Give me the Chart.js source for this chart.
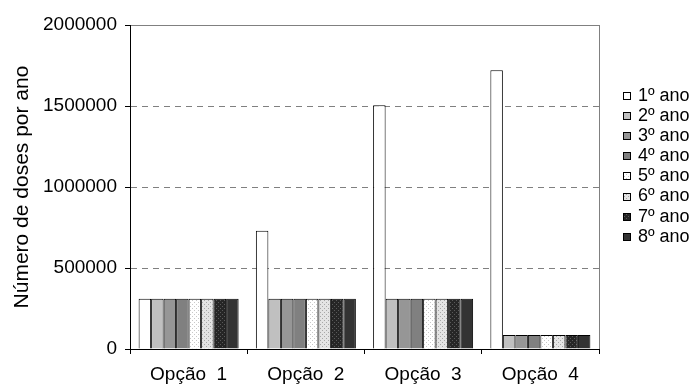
<!DOCTYPE html>
<html>
<head>
<meta charset="utf-8">
<script src="https://cdn.jsdelivr.net/npm/chart.js@4.4.1/dist/chart.umd.min.js"></script>
<style>
  html, body { margin: 0; padding: 0; background: #fff; }
  #wrap { width: 693px; height: 385px; position: relative; }
</style>
</head>
<body>
<div id="wrap"><canvas id="chart" width="693" height="385"></canvas></div>
<script>
// Chart data
const categories = ['Opção  1', 'Opção  2', 'Opção  3', 'Opção  4'];
const seriesNames = ['1º ano', '2º ano', '3º ano', '4º ano', '5º ano', '6º ano', '7º ano', '8º ano'];
const ano1 = [310000, 730000, 1505000, 1720000];
const ano2 = [310000, 310000, 310000, 86000];
const ano3 = [310000, 310000, 310000, 86000];
const ano4 = [310000, 310000, 310000, 86000];
const ano5 = [310000, 310000, 310000, 86000];
const ano6 = [310000, 310000, 310000, 86000];
const ano7 = [310000, 310000, 310000, 86000];
const ano8 = [310000, 310000, 310000, 86000];
const yTicks = [0, 500000, 1000000, 1500000, 2000000];

const FONT = 'Liberation Sans, Arial, sans-serif';

// small dotted fill used by some of the years
function dotPattern(bg, dot) {
  const c = document.createElement('canvas');
  c.width = 4; c.height = 4;
  const g = c.getContext('2d');
  g.fillStyle = bg;
  g.fillRect(0, 0, 4, 4);
  g.fillStyle = dot;
  g.fillRect(0, 0, 1, 1);
  g.fillRect(2, 2, 1, 1);
  return g.createPattern(c, 'repeat');
}

const fills = [
  '#ffffff',
  '#c0c0c0',
  '#969696',
  '#808080',
  dotPattern('#ffffff', '#c8c8c8'),
  dotPattern('#e4e4e4', '#a8a8a8'),
  dotPattern('#262626', '#5a5a5a'),
  '#333333'
];
const values = [ano1, ano2, ano3, ano4, ano5, ano6, ano7, ano8];

const datasets = seriesNames.map((name, i) => ({
  label: name,
  data: values[i],
  backgroundColor: fills[i],
  borderColor: '#000000',
  borderWidth: 1,
  borderSkipped: 'bottom',
  barPercentage: 1.0,
  categoryPercentage: 0.853
}));

// right-hand border of the plot and the legend
const framePlugin = {
  id: 'frame',
  afterDraw(chart) {
    const ctx = chart.ctx;
    const a = chart.chartArea;
    ctx.save();
    ctx.strokeStyle = '#808080';
    ctx.lineWidth = 1;
    ctx.beginPath();
    ctx.moveTo(Math.round(a.right) + 0.5, a.top);
    ctx.lineTo(Math.round(a.right) + 0.5, a.bottom);
    ctx.stroke();

    // legend
    ctx.font = '18px ' + FONT;
    ctx.textBaseline = 'middle';
    chart.data.datasets.forEach((ds, i) => {
      const y = 96 + i * 20.1;
      const top = Math.round(y - 4);
      ctx.fillStyle = ds.backgroundColor;
      ctx.fillRect(623, top, 8, 8);
      ctx.strokeStyle = '#000';
      ctx.strokeRect(623.5, top + 0.5, 7, 7);
      ctx.fillStyle = '#000';
      ctx.fillText(ds.label, 638, y);
    });
    ctx.restore();
  }
};

new Chart(document.getElementById('chart'), {
  type: 'bar',
  data: { labels: categories, datasets: datasets },
  plugins: [framePlugin],
  options: {
    responsive: false,
    animation: false,
    layout: { padding: { left: 0, right: 94, top: 25, bottom: 0 } },
    plugins: {
      legend: { display: false },
      tooltip: { enabled: false }
    },
    scales: {
      x: {
        offset: true,
        grid: {
          offset: true,
          drawOnChartArea: false,
          tickLength: 5,
          tickColor: '#000'
        },
        border: { color: '#000', width: 1 },
        ticks: {
          color: '#000',
          font: { family: FONT, size: 19 },
          padding: 9,
          maxRotation: 0
        },
        afterFit(scale) { scale.height = 36; }
      },
      y: {
        min: 0,
        max: 2000000,
        afterBuildTicks(scale) { scale.ticks = yTicks.map(v => ({ value: v })); },
        grid: {
          color: ctx => ctx.index === 0 ? 'rgba(0,0,0,0)' : '#808080',
          lineWidth: 1,
          tickLength: 5,
          tickColor: '#000',
          tickBorderDash: []
        },
        border: {
          color: '#000',
          width: 1,
          dash: ctx => (ctx.index > 0 && ctx.index < yTicks.length - 1) ? [6, 5] : []
        },
        ticks: {
          color: '#000',
          font: { family: FONT, size: 19 },
          padding: 8,
          callback: v => String(v)
        },
        title: {
          display: true,
          text: 'Número de doses por ano',
          color: '#000',
          font: { family: FONT, size: 21 },
          padding: { top: 10, bottom: 0 }
        },
        afterFit(scale) { scale.width = 130; }
      }
    }
  }
});
</script>
</body>
</html>
